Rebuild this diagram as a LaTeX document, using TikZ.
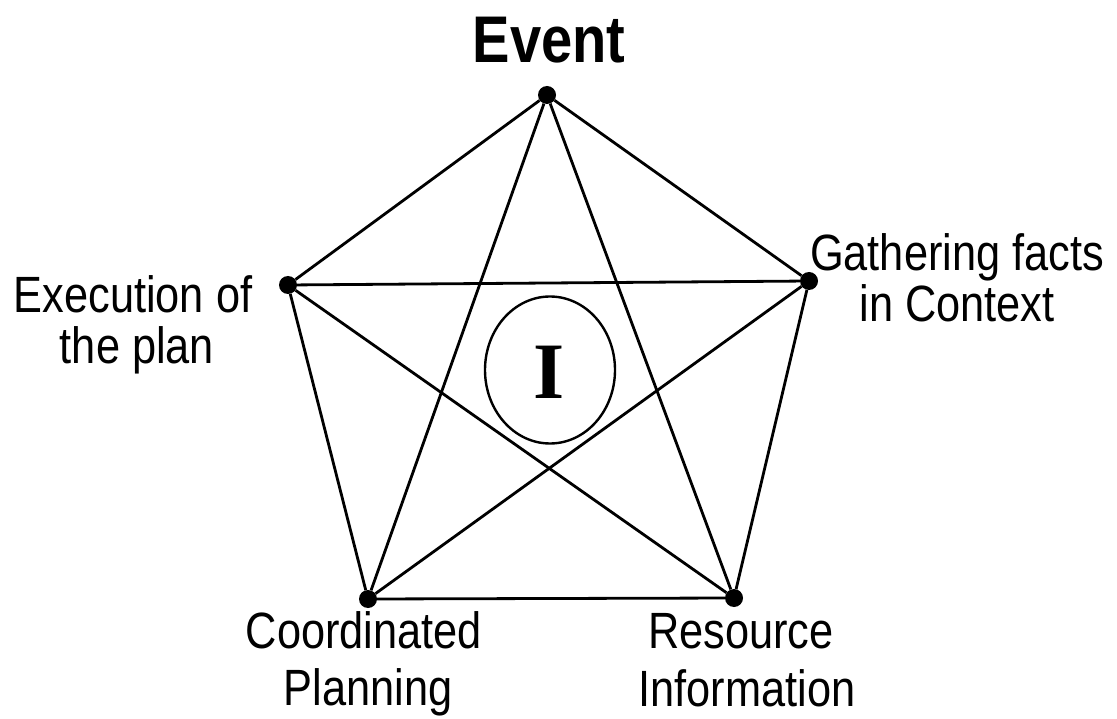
\documentclass[tikz,border=0pt]{standalone}
\usepackage{fontspec}
\usetikzlibrary{shapes.geometric}
\newfontfamily\labfont[FakeStretch=0.85]{Liberation Sans}
\newfontfamily\romfont{Liberation Serif}
\begin{document}
\begin{tikzpicture}[x=1pt,y=-1pt,
  vertex/.style={circle,fill=black,inner sep=0pt,minimum size=18pt},
  edge/.style={line width=2.8pt},
  lab/.style={anchor=base,inner sep=0pt,font=\labfont\fontsize{51}{51}\selectfont},
  title/.style={anchor=base,inner sep=0pt,font=\labfont\bfseries\fontsize{66}{66}\selectfont}]
\useasboundingbox (0,0) rectangle (1117,719);

% the five vertices of the pentagon
\node[vertex] (ev) at (547,95) {};
\node[vertex] (ga) at (809,281) {};
\node[vertex] (ex) at (288,285) {};
\node[vertex] (co) at (368,599) {};
\node[vertex] (re) at (734,598) {};

% outer pentagon
\draw[edge] (ev) -- (ga);
\draw[edge] (ga) -- (re);
\draw[edge] (re) -- (co);
\draw[edge] (co) -- (ex);
\draw[edge] (ex) -- (ev);
% inner star
\draw[edge] (ev) -- (co);
\draw[edge] (ev) -- (re);
\draw[edge] (ex) -- (ga);
\draw[edge] (ex) -- (re);
\draw[edge] (ga) -- (co);

% central circle with the letter I
\node[draw,ellipse,line width=2.4pt,minimum width=130pt,minimum height=147pt,inner sep=0pt,
      fill=white] (core) at (550,370) {};
\node[inner sep=0pt,font=\romfont\bfseries\fontsize{80}{80}\selectfont] (ii) at (549,372) {I};

% labels
\node[title] (evt) at (549,63) {Event};
\node[lab] (ga1) at (957,271) {Gathering facts};
\node[lab] (ga2) at (957,322) {in Context};
\node[lab] (ex1) at (133,313) {Execution of};
\node[lab] (ex2) at (137,363) {the plan};
\node[lab] (co1) at (364,648) {Coordinated};
\node[lab] (co2) at (368,705) {Planning};
\node[lab] (re1) at (741,648) {Resource};
\node[lab] (re2) at (747,706) {Information};
\end{tikzpicture}
\end{document}
